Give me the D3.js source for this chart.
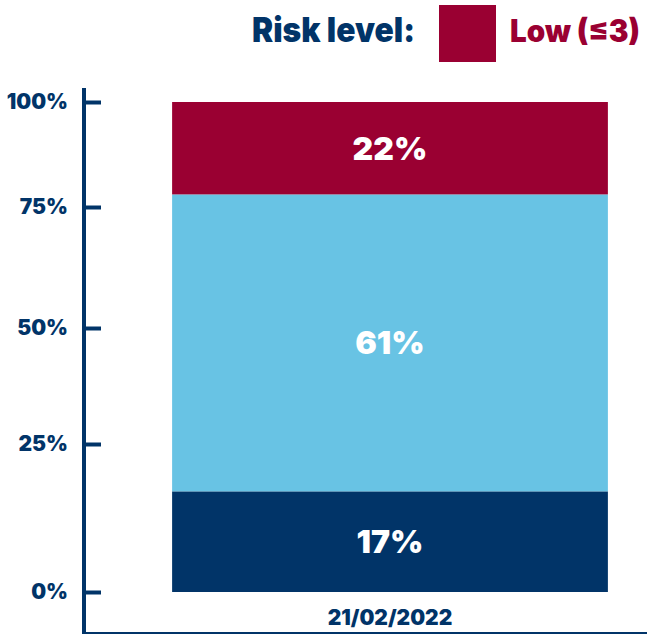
<!DOCTYPE html>
<html>
<head>
<meta charset="utf-8">
<title>Risk level</title>
<script src="https://cdn.jsdelivr.net/npm/d3@7"></script>
<style>
body { margin: 0; background: #fff; }
text { font-family: Inter, "DejaVu Sans", sans-serif; font-weight: 800; }
</style>
</head>
<body>
<script>
// data
var categories = ["21/02/2022"];
var seriesKeys = ["high", "medium", "low"];          // stacked bottom -> top
var seriesValues = { high: [17], medium: [61], low: [22] };
var seriesColors = ["#013468", "#68c3e4", "#9a0032"];
var tickValues = [0, 25, 50, 75, 100];
var legendTitle = "Risk level:";
var legendLabel = "Low (\u22643)";

var width = 647, height = 634;
var navy = "#013468";

var svg = d3.select("body").append("svg")
    .attr("width", width)
    .attr("height", height);

// the original axis is not evenly spaced, so ticks are mapped piecewise
var y = d3.scaleLinear()
    .domain(tickValues)
    .range([592, 444, 328, 207, 102]);

var x = d3.scaleBand()
    .domain(categories)
    .range([86, 694])
    .padding(0.165);

var rows = categories.map(function(c, i) {
  var r = { cat: c };
  seriesKeys.forEach(function(k) { r[k] = seriesValues[k][i]; });
  return r;
});
var stacked = d3.stack().keys(seriesKeys)(rows);

var layers = svg.selectAll(".layer")
    .data(stacked)
  .enter().append("g")
    .attr("fill", function(d, i) { return seriesColors[i]; });

layers.selectAll("rect")
    .data(function(d) { return d; })
  .enter().append("rect")
    .attr("x", function(d) { return x(d.data.cat); })
    .attr("width", x.bandwidth())
    .attr("y", function(d) { return y(d[1]); })
    .attr("height", function(d) { return y(d[0]) - y(d[1]); });

layers.selectAll("text")
    .data(function(d) { return d; })
  .enter().append("text")
    .attr("x", function(d) { return x(d.data.cat) + x.bandwidth() / 2; })
    .attr("y", function(d) { return (y(d[0]) + y(d[1])) / 2; })
    .attr("text-anchor", "middle")
    .attr("dominant-baseline", "central")
    .attr("fill", "#fff")
    .style("font-size", "32px")
    .style("font-weight", 900)
    .text(function(d) { return (d[1] - d[0]) + "%"; });

// y axis
var yAxis = svg.append("g")
    .attr("transform", "translate(84,0)")
    .call(d3.axisLeft(y)
      .tickValues(tickValues)
      .tickFormat(function(d) { return d + "%"; })
      .tickSizeInner(-17)
      .tickSizeOuter(0)
      .tickPadding(16));
yAxis.select(".domain").remove();
yAxis.selectAll(".tick line").attr("stroke", navy).attr("stroke-width", 4);
yAxis.selectAll(".tick text")
    .attr("fill", navy)
    .style("font-size", "21px")
    .style("font-weight", 900)
    .style("font-family", "Inter, sans-serif");

svg.append("line")
    .attr("x1", 84).attr("x2", 84)
    .attr("y1", 88).attr("y2", height)
    .attr("stroke", navy).attr("stroke-width", 4);

// x axis
svg.append("line")
    .attr("x1", 82).attr("x2", width)
    .attr("y1", 633).attr("y2", 633)
    .attr("stroke", navy).attr("stroke-width", 2);

svg.selectAll(".xlabel")
    .data(categories)
  .enter().append("text")
    .attr("x", function(d) { return x(d) + x.bandwidth() / 2; })
    .attr("y", 625)
    .attr("text-anchor", "middle")
    .attr("fill", navy)
    .style("font-size", "21px")
    .style("font-weight", 900)
    .text(function(d) { return d; });

// legend
svg.append("text")
    .attr("x", 252).attr("y", 42)
    .attr("fill", navy)
    .style("font-size", "34px")
    .style("font-weight", 900)
    .attr("textLength", 163)
    .attr("lengthAdjust", "spacingAndGlyphs")
    .text(legendTitle);

svg.append("rect")
    .attr("x", 439).attr("y", 5)
    .attr("width", 57).attr("height", 57)
    .attr("fill", seriesColors[2]);

svg.append("text")
    .attr("x", 510).attr("y", 42)
    .attr("fill", seriesColors[2])
    .style("font-size", "31px")
    .style("font-weight", 900)
    .attr("textLength", 130)
    .attr("lengthAdjust", "spacingAndGlyphs")
    .text(legendLabel);
</script>
</body>
</html>
